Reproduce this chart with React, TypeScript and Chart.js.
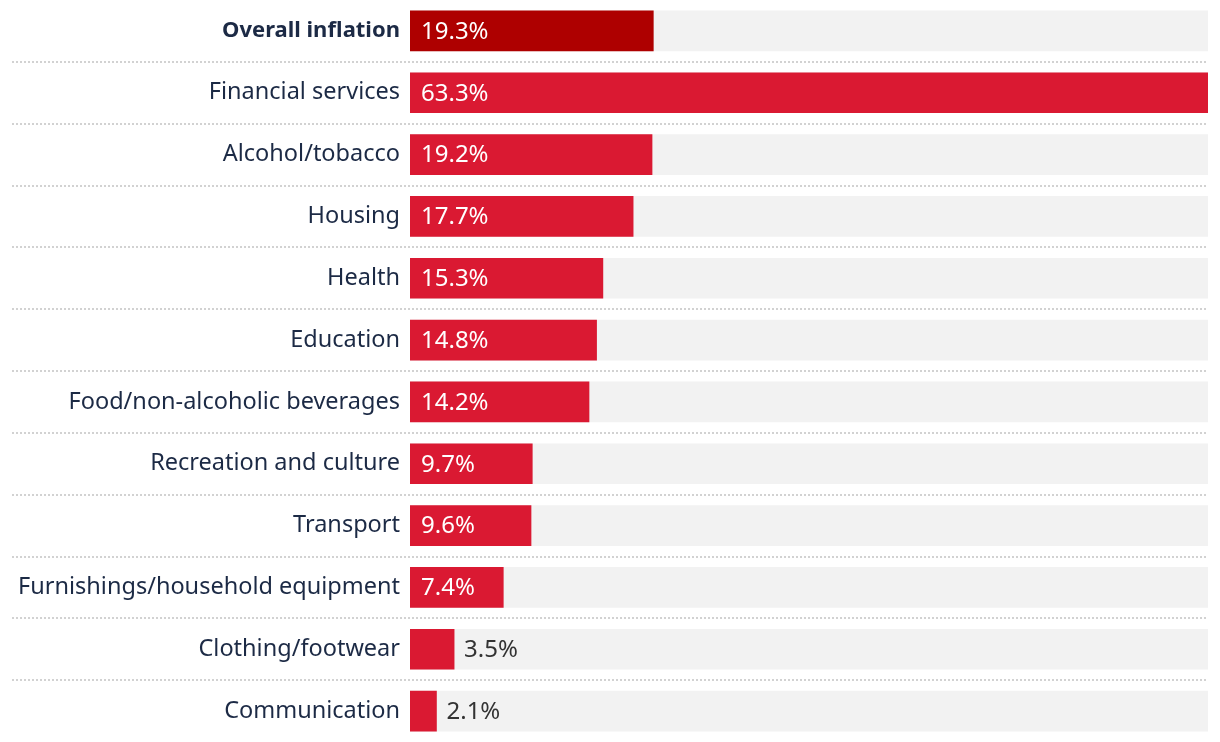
import React, { useEffect, useRef } from "react";
import { Chart, registerables } from "chart.js";

Chart.register(...registerables);

const categories = [
  "Overall inflation",
  "Financial services",
  "Alcohol/tobacco",
  "Housing",
  "Health",
  "Education",
  "Food/non-alcoholic beverages",
  "Recreation and culture",
  "Transport",
  "Furnishings/household equipment",
  "Clothing/footwear",
  "Communication",
];

const values = [19.3, 63.3, 19.2, 17.7, 15.3, 14.8, 14.2, 9.7, 9.6, 7.4, 3.5, 2.1];

const FONT = "'Noto Sans', sans-serif";
const LABEL_COLOR = "#1c2a45";
const HIGHLIGHT = "#ae0000";
const BAR = "#da1932";
const TRACK = "#f2f2f2";

const maxValue = Math.max(...values);
const trackValues = categories.map(() => maxValue);

const separatorPlugin = {
  id: "separators",
  beforeDatasetsDraw(chart: any) {
    const { ctx, scales, chartArea } = chart;
    const y = scales.y;
    ctx.save();
    ctx.strokeStyle = "#d2d2d2";
    ctx.lineWidth = 2;
    ctx.setLineDash([2, 2]);
    for (let i = 0; i < categories.length - 1; i++) {
      const py = Math.round((y.getPixelForValue(i) + y.getPixelForValue(i + 1)) / 2);
      ctx.beginPath();
      ctx.moveTo(12, py);
      ctx.lineTo(chartArea.right, py);
      ctx.stroke();
    }
    ctx.restore();
  },
};

const valueLabelPlugin = {
  id: "valueLabels",
  afterDatasetsDraw(chart: any) {
    const { ctx } = chart;
    const meta = chart.getDatasetMeta(0);
    ctx.save();
    ctx.font = `24px ${FONT}`;
    ctx.textBaseline = "middle";
    ctx.textAlign = "left";
    meta.data.forEach((bar: any, i: number) => {
      const text = values[i].toFixed(1) + "%";
      const w = ctx.measureText(text).width;
      const barW = bar.x - bar.base;
      if (w + 20 <= barW) {
        ctx.fillStyle = "#ffffff";
        ctx.fillText(text, bar.base + 11, bar.y + 1);
      } else {
        ctx.fillStyle = "#333333";
        ctx.fillText(text, bar.x + 10, bar.y + 1);
      }
    });
    ctx.restore();
  },
};

export default function App() {
  const ref = useRef<HTMLCanvasElement>(null);

  useEffect(() => {
    if (!ref.current) return;
    const chart = new Chart(ref.current, {
      type: "bar",
      data: {
        labels: categories,
        datasets: [
          {
            data: values,
            backgroundColor: values.map((_, i) => (i === 0 ? HIGHLIGHT : BAR)),
            barThickness: 40,
            grouped: false,
            borderWidth: 0,
          },
          {
            data: trackValues,
            backgroundColor: TRACK,
            barThickness: 40,
            grouped: false,
            borderWidth: 0,
          },
        ],
      },
      options: {
        indexAxis: "y",
        animation: false,
        responsive: true,
        maintainAspectRatio: false,
        layout: { padding: { top: 0, bottom: 0, left: 0, right: 12 } },
        plugins: {
          legend: { display: false },
          tooltip: { enabled: false },
        },
        scales: {
          x: {
            display: false,
            min: 0,
            max: maxValue,
          },
          y: {
            offset: true,
            grid: { display: false, drawTicks: false },
            border: { display: false },
            afterFit(scale: any) {
              scale.width = 410;
              scale.paddingTop = 0;
              scale.paddingBottom = 0;
            },
            ticks: {
              padding: 10,
              color: LABEL_COLOR,
              font: (c: any) => ({
                family: FONT,
                size: c.index === 0 ? 22 : 23.5,
                weight: c.index === 0 ? "bold" : "normal",
              }),
            },
          },
        },
      },
      plugins: [separatorPlugin, valueLabelPlugin],
    });
    return () => chart.destroy();
  }, []);

  return (
    <div style={{ position: "fixed", left: 0, top: 0, width: 1220, height: 742, background: "#fff" }}>
      <canvas ref={ref} />
    </div>
  );
}
